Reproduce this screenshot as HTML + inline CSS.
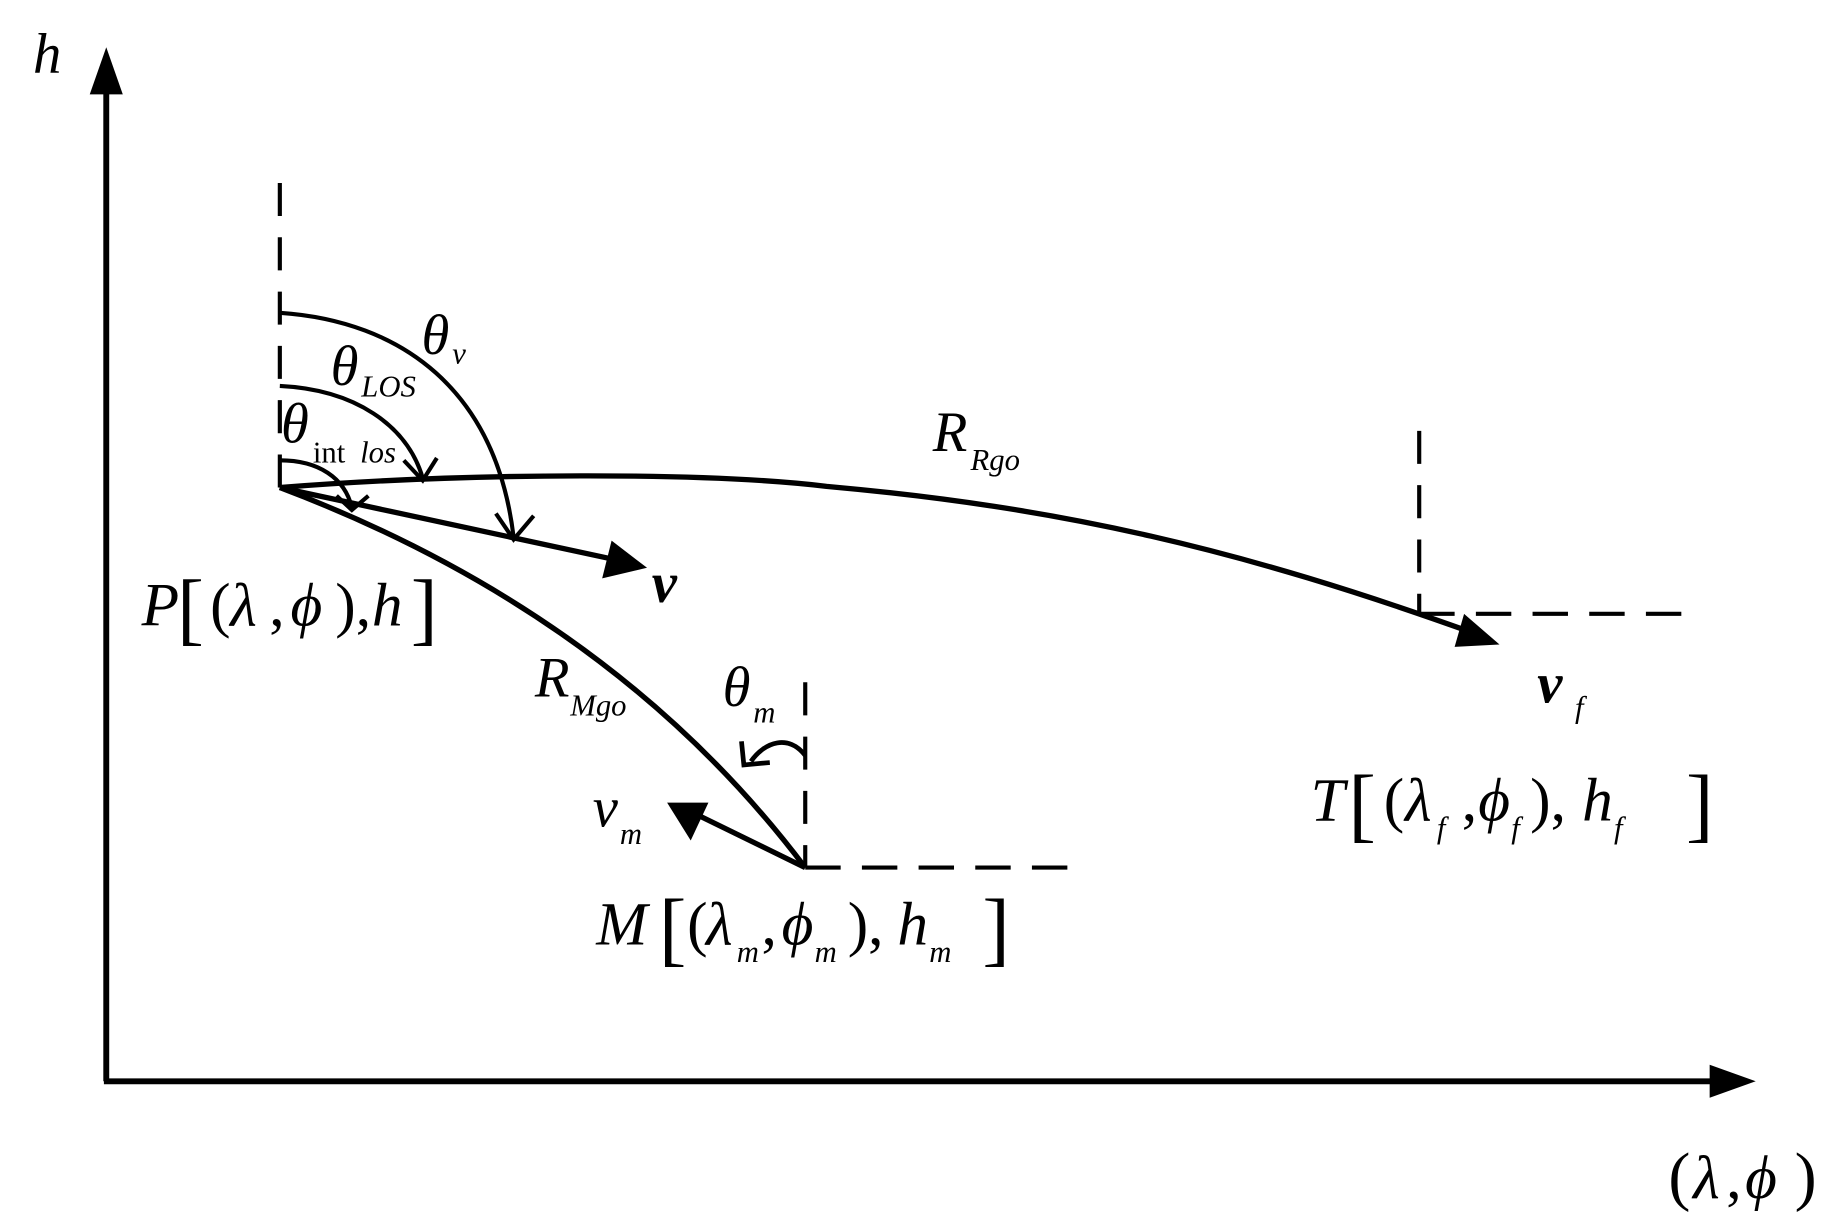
<!DOCTYPE html>
<html><head><meta charset="utf-8"><style>
html,body{margin:0;padding:0;background:#fff;}
svg{display:block;}
text{font-family:"Liberation Serif",serif;font-style:italic;fill:#000;}
.n{font-style:normal;}
</style></head><body>
<svg width="1836" height="1230" viewBox="0 0 1555 1042" preserveAspectRatio="none" xmlns="http://www.w3.org/2000/svg">
<g stroke="#000" fill="none" stroke-width="4">
<line x1="90" y1="916" x2="90" y2="70" stroke-width="5"/>
<line x1="88" y1="916" x2="1455" y2="916" stroke-width="5"/>
<line x1="237" y1="155" x2="237" y2="413" stroke-dasharray="28,18" stroke-width="3.5"/>
<line x1="1202" y1="365" x2="1202" y2="520" stroke-dasharray="28,18" stroke-width="3.5"/>
<line x1="1202" y1="520" x2="1435" y2="520" stroke-dasharray="30,18" stroke-width="3.5"/>
<line x1="682" y1="578" x2="682" y2="735" stroke-dasharray="28,18" stroke-width="3.5"/>
<line x1="682" y1="735" x2="910" y2="735" stroke-dasharray="30,18" stroke-width="3.5"/>
<path d="M237 265 C340 272 420 330 435 455" stroke-width="3.5"/>
<path d="M420 435 L435 457 L452 437" stroke-width="3.5"/>
<path d="M237 327 C300 330 345 360 358 405" stroke-width="3.5"/>
<path d="M342 390 L358 407 L370 388" stroke-width="3.5"/>
<path d="M237 390 C270 390 292 405 298 430" stroke-width="3.5"/>
<path d="M285 420 L298 432 L312 420" stroke-width="3.5"/>
<line x1="237" y1="413" x2="525" y2="475" stroke-width="4.5"/>
<path d="M237 413 C400 400 600 400 700 412 C900 430 1050 465 1250 537" stroke-width="4.5"/>
<path d="M237 413 Q520 520 682 735" stroke-width="4.5"/>
<line x1="682" y1="735" x2="590" y2="690" stroke-width="4.5"/>
<path d="M682 640 C668 622 648 628 636 645" stroke-width="4"/>
<path d="M628 628 L630 648 L652 646" stroke-width="4"/>
</g>
<g fill="#000">
<polygon points="90,40 76,80 104,80"/>
<polygon points="1487,916 1448,902 1448,930"/>
<polygon points="548,481 518,458 510,490"/>
<polygon points="1270,546 1240,520 1232,548"/>
<polygon points="565,680 585,712 600,680"/>
</g>
<text x="28" y="62" font-size="48">h</text>
<text x="1413" y="1015" font-size="56" class="n">(</text>
<text x="1434" y="1015" font-size="52">λ</text>
<text x="1462" y="1015" font-size="52" class="n">,</text>
<text x="1478" y="1015" font-size="52">ϕ</text>
<text x="1520" y="1015" font-size="56" class="n">)</text>
<text x="357" y="300" font-size="48">θ</text><text x="383" y="308" font-size="26">v</text>
<text x="280" y="326" font-size="48">θ</text><text x="306" y="336" font-size="26">LOS</text>
<text x="238" y="375" font-size="48">θ</text><text x="265" y="392" font-size="26" class="n">int</text><text x="305" y="392" font-size="26">los</text>
<text x="790" y="382" font-size="48">R</text><text x="822" y="398" font-size="26">Rgo</text>
<text x="552" y="510" font-size="48" font-weight="bold">v</text>
<text x="120" y="530" font-size="52">P</text>
<text x="150" y="538" font-size="68" class="n">[</text>
<text x="178" y="530" font-size="52" class="n">(</text>
<text x="195" y="530" font-size="52">λ</text>
<text x="228" y="530" font-size="52" class="n">,</text>
<text x="246" y="530" font-size="52">ϕ</text>
<text x="284" y="530" font-size="52" class="n">),</text>
<text x="315" y="530" font-size="52">h</text>
<text x="348" y="538" font-size="68" class="n">]</text>
<text x="453" y="590" font-size="48">R</text><text x="483" y="606" font-size="26">Mgo</text>
<text x="612" y="598" font-size="48">θ</text><text x="638" y="612" font-size="26">m</text>
<text x="502" y="700" font-size="48">v</text><text x="525" y="715" font-size="26">m</text>
<text x="505" y="800" font-size="52">M</text>
<text x="558" y="810" font-size="70" class="n">[</text>
<text x="582" y="800" font-size="52" class="n">(</text>
<text x="598" y="800" font-size="52">λ</text><text x="624" y="815" font-size="26">m</text>
<text x="645" y="800" font-size="52" class="n">,</text>
<text x="662" y="800" font-size="52">ϕ</text><text x="690" y="815" font-size="26">m</text>
<text x="718" y="800" font-size="52" class="n">),</text>
<text x="760" y="800" font-size="52">h</text><text x="787" y="815" font-size="26">m</text>
<text x="832" y="810" font-size="70" class="n">]</text>
<text x="1302" y="595" font-size="48" font-weight="bold">v</text><text x="1334" y="608" font-size="26">f</text>
<text x="1110" y="695" font-size="52">T</text>
<text x="1142" y="705" font-size="70" class="n">[</text>
<text x="1172" y="695" font-size="52" class="n">(</text>
<text x="1190" y="695" font-size="52">λ</text><text x="1217" y="710" font-size="26">f</text>
<text x="1238" y="695" font-size="52" class="n">,</text>
<text x="1252" y="695" font-size="52">ϕ</text><text x="1280" y="710" font-size="26">f</text>
<text x="1296" y="695" font-size="52" class="n">),</text>
<text x="1340" y="695" font-size="52">h</text><text x="1367" y="710" font-size="26">f</text>
<text x="1428" y="705" font-size="70" class="n">]</text>
</svg>
</body></html>
